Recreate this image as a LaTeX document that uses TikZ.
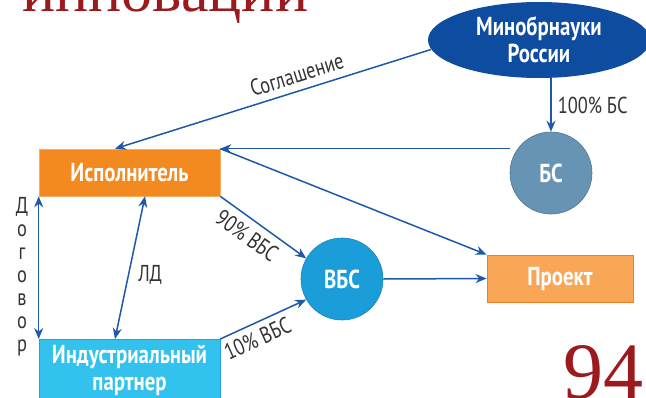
\documentclass[tikz,border=0pt]{standalone}
\usepackage{fontspec}
\setmainfont{Liberation Serif}
\newfontfamily\cond[FakeStretch=0.8]{PT Sans}
\usetikzlibrary{arrows.meta,shapes.geometric}
\definecolor{arr}{HTML}{1F58A8}
\definecolor{minob}{HTML}{0E4C9F}
\definecolor{ispol}{HTML}{F28A1F}
\definecolor{indus}{HTML}{33C1EE}
\definecolor{bsc}{HTML}{6793B4}
\definecolor{vbsc}{HTML}{1A9DD8}
\definecolor{proj}{HTML}{F9A756}
\definecolor{projb}{HTML}{F07F22}
\definecolor{titler}{HTML}{9B1A1E}
\definecolor{lbl}{HTML}{333333}
\tikzset{
  conn/.style={draw=arr, line width=1.5pt, -{Stealth[length=11pt,width=9pt]}},
  dconn/.style={draw=arr, line width=1.5pt, {Stealth[length=11pt,width=9pt]}-{Stealth[length=11pt,width=9pt]}},
  boxtext/.style={text=white, font=\cond\bfseries\fontsize{26}{27}\selectfont, align=center},
  lab/.style={text=lbl, font=\cond\fontsize{23}{23}\selectfont, inner sep=0pt},
  rbox/.style={rectangle, minimum width=181pt, inner sep=0pt, boxtext},
}
\begin{document}
\begin{tikzpicture}[x=1pt,y=-1pt]
\useasboundingbox (0,0) rectangle (646,397);
\fill[white] (0,0) rectangle (646,397);
\begin{scope}
\clip (0,0) rectangle (646,397);
\node[anchor=base west, inner sep=0pt, text=titler, font=\fontsize{62}{62}\selectfont] (title) at (22,11) {инновации};
\node[anchor=base east, inner sep=0pt, text=titler, font=\fontsize{80}{80}\selectfont] (page) at (644,398) {94};
\node[ellipse, fill=minob, minimum width=222pt, minimum height=76pt, inner sep=0pt, boxtext] (mino) at (539,40) {Минобрнауки\\России};
\node[rbox, fill=ispol, draw=ispol!70!white, line width=0.6pt, minimum height=47pt] (isp) at (129.5,172.5) {Исполнитель};
\node[rbox, fill=indus, draw=indus!80!blue, line width=0.6pt, minimum height=62pt, anchor=north] (ind) at (129.5,339) {Индустриальный\\партнер};
\end{scope}
\node[circle, fill=bsc, draw=bsc!80!black, line width=0.6pt, minimum size=82pt, inner sep=0pt, boxtext] (bs) at (551,173) {БС};
\node[circle, fill=vbsc, draw=vbsc!85!black, line width=0.6pt, minimum size=82pt, inner sep=0pt, boxtext] (vbs) at (342,279) {ВБС};
\node[rectangle, fill=proj, draw=projb, line width=0.8pt, minimum width=146pt, minimum height=47pt, inner sep=0pt, boxtext] (proj) at (560,278.5) {Проект};

% connectors
\draw[conn] (mino.185) -- node[lab, sloped, above=7pt, pos=0.41] (lsogl) {Соглашение} (isp.north -| 115,0);
\draw[conn] (mino.south -| bs.north) -- node[lab, right=6pt] (l100) {100\% БС} (bs.north);
\draw[conn] (bs.west |- isp.north east) -- (isp.north east);
\draw[conn] (isp.north east) -- (proj.north west);
\draw[conn] (isp.south east) -- node[lab, sloped, below=7pt, pos=0.42] (l90) {90\% ВБС} (vbs.150);
\draw[conn] (ind.north east) -- node[lab, sloped, below=6pt, pos=0.36] (l10) {10\% ВБС} (vbs.210);
\draw[conn] (vbs.east) -- (proj.west);
\draw[dconn] (isp.south west) -- (ind.north west);
\draw[dconn] (isp.south -| 145,0) -- node[lab, right=9pt, pos=0.55] (lld) {ЛД} (ind.north -| 115,0);
\node[lab, align=center, anchor=north] (ldog) at (22,197) {Д\\о\\г\\о\\в\\о\\р};
\end{tikzpicture}
\end{document}
